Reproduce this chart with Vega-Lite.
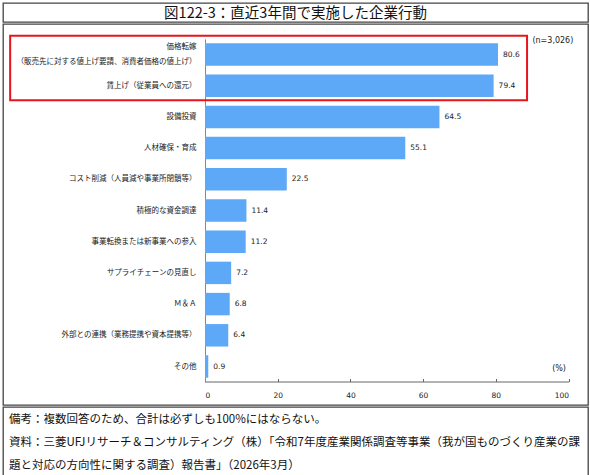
{
  "$schema": "https://vega.github.io/schema/vega-lite/v6.json",
  "padding": {"left": 2, "top": 2, "right": 2, "bottom": 2},
  "background": "white",
  "spacing": 0,
  "config": {
    "view": {"stroke": "#444", "strokeWidth": 1.3},
    "font": "Noto Sans CJK JP",
    "concat": {"spacing": 0}
  },
  "datasets": {
    "acts": [
      {"cat": "価格転嫁|（販売先に対する値上げ要請、消費者価格の値上げ）", "pct": 80.6},
      {"cat": "賃上げ（従業員への還元）", "pct": 79.4},
      {"cat": "設備投資", "pct": 64.5},
      {"cat": "人材確保・育成", "pct": 55.1},
      {"cat": "コスト削減（人員減や事業所閉鎖等）", "pct": 22.5},
      {"cat": "積極的な資金調達", "pct": 11.4},
      {"cat": "事業転換または新事業への参入", "pct": 11.2},
      {"cat": "サプライチェーンの見直し", "pct": 7.2},
      {"cat": "Ｍ＆Ａ", "pct": 6.8},
      {"cat": "外部との連携（業務提携や資本提携等）", "pct": 6.4},
      {"cat": "その他", "pct": 0.9}
    ]
  },
  "vconcat": [
    {
      "width": 585,
      "height": 19,
      "data": {"values": [{"t": "図122-3：直近3年間で実施した企業行動"}]},
      "mark": {"type": "text", "fontSize": 14.5, "font": "Noto Sans CJK JP", "color": "#111", "baseline": "middle", "align": "center", "dy": 1},
      "encoding": {
        "y": {"field": "t", "type": "nominal", "axis": null},
        "text": {"field": "t"}
      }
    },
    {
      "width": 585,
      "height": 381,
      "data": {"name": "acts"},
      "encoding": {
        "y": {
          "field": "cat",
          "type": "nominal",
          "sort": null,
          "scale": {"range": [14.9, 358.1], "paddingInner": 0.28, "paddingOuter": 0.14},
          "axis": {
            "title": null,
            "orient": "left",
            "offset": -202,
            "ticks": false,
            "domainColor": "#888",
            "domainWidth": 1,
            "labelFontSize": 7.5,
            "labelFont": "Noto Sans CJK JP",
            "labelColor": "#1a1a1a",
            "labelPadding": 9,
            "labelLimit": 250,
            "labelLineHeight": 15.5,
            "labelOffset": {"condition": {"test": "indexof(datum.label, '|') >= 0", "value": -8}, "value": 0},
            "labelExpr": "split(datum.label, '|')"
          }
        }
      },
      "layer": [
        {
          "mark": {"type": "bar", "color": "#5ea8f8"},
          "encoding": {
            "x": {
              "field": "pct",
              "type": "quantitative",
              "scale": {"domain": [0, 100], "range": [202, 565.5], "nice": false, "zero": true},
              "axis": {
                "title": null,
                "offset": -23.5,
                "values": [0, 20, 40, 60, 80, 100],
                "grid": false,
                "tickSize": -3,
                "tickColor": "#666",
                "domainColor": "#666",
                "labelFontSize": 7.5,
                "labelFont": "DejaVu Sans",
                "labelColor": "#222",
                "labelPadding": 13
              }
            }
          }
        },
        {
          "mark": {"type": "text", "align": "left", "baseline": "middle", "dx": 5, "fontSize": 7.5, "font": "DejaVu Sans", "color": "#222"},
          "encoding": {
            "x": {"field": "pct", "type": "quantitative"},
            "text": {"field": "pct", "type": "quantitative", "format": ".1f"}
          }
        },
        {
          "data": {"values": [{"c": "価格転嫁|（販売先に対する値上げ要請、消費者価格の値上げ）"}]},
          "mark": {"type": "bar", "fill": null, "fillOpacity": 0, "stroke": "#e8141c", "strokeWidth": 2, "size": 64.6, "yOffset": 13.5},
          "encoding": {
            "y": {"field": "c", "type": "nominal"},
            "x": {"datum": -53.6, "type": "quantitative"},
            "x2": {"datum": 88.6}
          }
        },
        {
          "data": {"values": [{"c": "価格転嫁|（販売先に対する値上げ要請、消費者価格の値上げ）", "note": "(n=3,026)"}]},
          "mark": {"type": "text", "align": "center", "baseline": "middle", "fontSize": 8, "font": "DejaVu Sans", "color": "#222", "dy": -13.5},
          "encoding": {
            "y": {"field": "c", "type": "nominal"},
            "x": {"datum": 95.7, "type": "quantitative"},
            "text": {"field": "note"}
          }
        },
        {
          "data": {"values": [{"c": "その他", "note": "(%)"}]},
          "mark": {"type": "text", "align": "center", "baseline": "middle", "fontSize": 8, "font": "DejaVu Sans", "color": "#222", "dy": 2},
          "encoding": {
            "y": {"field": "c", "type": "nominal"},
            "x": {"datum": 97.4, "type": "quantitative"},
            "text": {"field": "note"}
          }
        }
      ]
    },
    {
      "width": 585,
      "height": 69,
      "data": {
        "values": [
          {"line": "1", "t": "備考：複数回答のため、合計は必ずしも100%にはならない。"},
          {"line": "2", "t": "資料：三菱UFJリサーチ＆コンサルティング（株）「令和7年度産業関係調査等事業（我が国ものづくり産業の課"},
          {"line": "3", "t": "　　　題と対応の方向性に関する調査）報告書」（2026年3月）"}
        ]
      },
      "mark": {"type": "text", "align": "left", "baseline": "middle", "fontSize": 11.5, "font": "Noto Sans CJK JP", "color": "#111", "dy": 1},
      "encoding": {
        "y": {"field": "line", "type": "ordinal", "axis": null},
        "x": {"value": 6},
        "text": {"field": "t"}
      }
    }
  ]
}
